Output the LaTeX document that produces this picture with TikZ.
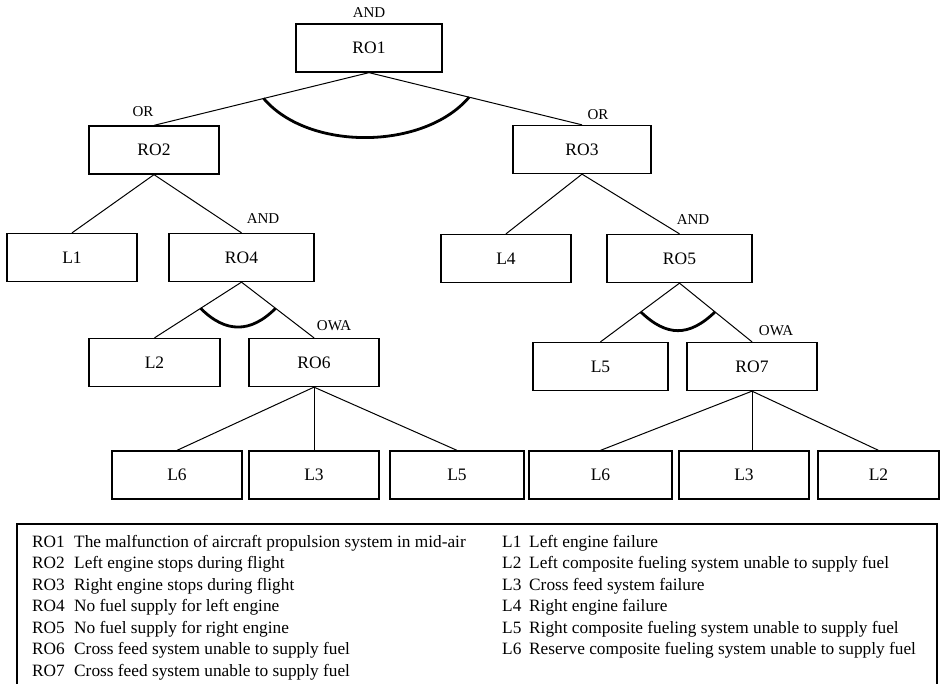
\documentclass[tikz,border=0pt]{standalone}
\usepackage{fontspec}
\setmainfont{Liberation Serif}
\begin{document}
\begin{tikzpicture}[x=1pt,y=-1pt,
  box/.style={draw,line width=1.3pt,inner sep=0pt,minimum height=48pt,font=\fontsize{17.5}{20}\selectfont},
  gate/.style={inner sep=0pt,font=\fontsize{15}{17}\selectfont},
  link/.style={line width=1pt},
  gatearc/.style={line width=2.8pt},
  legend/.style={inner sep=0pt,anchor=base west,font=\fontsize{17.3}{20}\selectfont}]
\useasboundingbox (0,0) rectangle (941,684);
% tree
\node[box,minimum width=146pt] (ro1) at (369,48) {RO1};
\node[box,minimum width=130pt] (ro2) at (154,150) {RO2};
\node[box,minimum width=138pt] (ro3) at (582,149.5) {RO3};
\node[box,minimum width=130pt] (l1) at (72,257.5) {L1};
\node[box,minimum width=145pt] (ro4) at (241.5,257.5) {RO4};
\node[box,minimum width=130pt] (l4) at (506,258.5) {L4};
\node[box,minimum width=145pt] (ro5) at (679.5,258.5) {RO5};
\node[box,minimum width=131pt] (l2a) at (154.5,362.5) {L2};
\node[box,minimum width=130pt] (ro6) at (314,362.5) {RO6};
\node[box,minimum width=135pt] (l5a) at (600.5,366.5) {L5};
\node[box,minimum width=130pt] (ro7) at (752,366.5) {RO7};
\node[box,minimum width=130pt] (l6a) at (177,475) {L6};
\node[box,minimum width=130pt] (l3a) at (314,475) {L3};
\node[box,minimum width=134pt] (l5b) at (457,475) {L5};
\node[box,minimum width=143pt] (l6b) at (600.5,475) {L6};
\node[box,minimum width=130pt] (l3b) at (744,475) {L3};
\node[box,minimum width=121pt] (l2b) at (878.5,475) {L2};
% gates
\node[gate] (and1) at (369,13) {AND};
\node[gate] (or2) at (143,112) {OR};
\node[gate] (or3) at (598,115) {OR};
\node[gate] (and4) at (263,219) {AND};
\node[gate] (and5) at (693,220) {AND};
\node[gate] (owa6) at (334,326) {OWA};
\node[gate] (owa7) at (776,331) {OWA};
% links
\draw[link] (ro1.south) -- coordinate[pos=.49] (ro1l) (ro2.north);
\draw[link] (ro1.south) -- coordinate[pos=.47] (ro1r) (ro3.north);
\draw[gatearc] (ro1l) .. controls +(45,53) and +(-45,53) .. (ro1r);
\draw[link] (ro2.south) -- (l1.north);
\draw[link] (ro2.south) -- (ro4.north);
\draw[link] (ro3.south) -- (l4.north);
\draw[link] (ro3.south) -- (ro5.north);
\draw[link] (ro4.south) -- coordinate[pos=.47] (ro4l) (l2a.north);
\draw[link] (ro4.south) -- coordinate[pos=.47] (ro4r) (ro6.north);
\draw[gatearc] (ro4l) .. controls +(25,25) and +(-25,25) .. (ro4r);
\draw[link] (ro5.south) -- coordinate[pos=.49] (ro5l) (l5a.north);
\draw[link] (ro5.south) -- coordinate[pos=.49] (ro5r) (ro7.north);
\draw[gatearc] (ro5l) .. controls +(26,25) and +(-26,25) .. (ro5r);
\draw[link] (ro6.south) -- (l6a.north);
\draw[link] (ro6.south) -- (l3a.north);
\draw[link] (ro6.south) -- (l5b.north);
\draw[link] (ro7.south) -- (l6b.north);
\draw[link] (ro7.south) -- (ro7.south |- l3b.north);
\draw[link] (ro7.south) -- (l2b.north);
% legend
\draw[line width=1.4pt] (17,690) -- (17,524) -- (937,524) -- (937,690);
\node[legend] (kro1) at (32,547) {RO1};
\node[legend] (dro1) at (74,547) {The malfunction of aircraft propulsion system in mid-air};
\node[legend] (kro2) at (32,568.5) {RO2};
\node[legend] (dro2) at (74,568.5) {Left engine stops during flight};
\node[legend] (kro3) at (32,590) {RO3};
\node[legend] (dro3) at (74,590) {Right engine stops during flight};
\node[legend] (kro4) at (32,611.5) {RO4};
\node[legend] (dro4) at (74,611.5) {No fuel supply for left engine};
\node[legend] (kro5) at (32,633) {RO5};
\node[legend] (dro5) at (74,633) {No fuel supply for right engine};
\node[legend] (kro6) at (32,654.5) {RO6};
\node[legend] (dro6) at (74,654.5) {Cross feed system unable to supply fuel};
\node[legend] (kro7) at (32,676) {RO7};
\node[legend] (dro7) at (74,676) {Cross feed system unable to supply fuel};
\node[legend] (kl1) at (502,547) {L1};
\node[legend] (dl1) at (529,547) {Left engine failure};
\node[legend] (kl2) at (502,568.5) {L2};
\node[legend] (dl2) at (529,568.5) {Left composite fueling system unable to supply fuel};
\node[legend] (kl3) at (502,590) {L3};
\node[legend] (dl3) at (529,590) {Cross feed system failure};
\node[legend] (kl4) at (502,611.5) {L4};
\node[legend] (dl4) at (529,611.5) {Right engine failure};
\node[legend] (kl5) at (502,633) {L5};
\node[legend] (dl5) at (529,633) {Right composite fueling system unable to supply fuel};
\node[legend] (kl6) at (502,654.5) {L6};
\node[legend] (dl6) at (529,654.5) {Reserve composite fueling system unable to supply fuel};
\end{tikzpicture}
\end{document}
